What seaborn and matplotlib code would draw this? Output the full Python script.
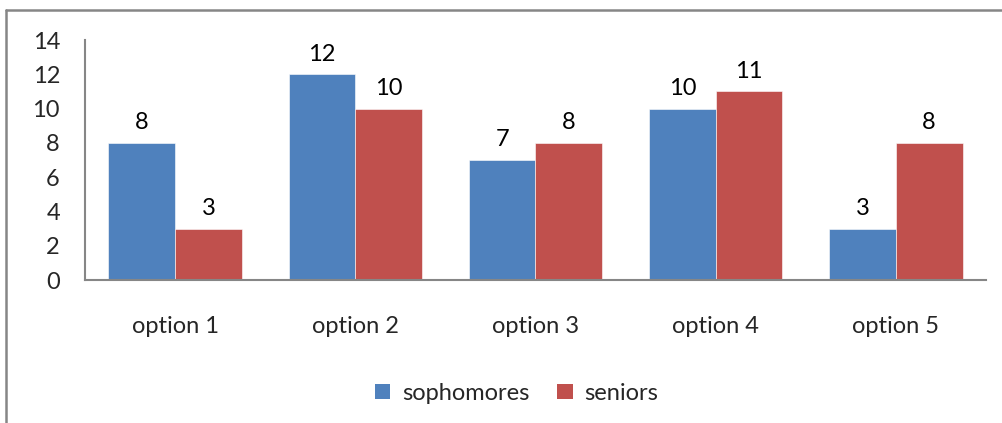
import pandas as pd
import seaborn as sns
import matplotlib.pyplot as plt
from matplotlib.lines import Line2D
from matplotlib.patches import Patch

# data
options = ['option 1', 'option 2', 'option 3', 'option 4', 'option 5']
sophomores = [8, 12, 7, 10, 3]
seniors = [3, 10, 8, 11, 8]
groups = ['sophomores', 'seniors']
y_ticks = [0, 2, 4, 6, 8, 10, 12, 14]

df = pd.DataFrame({
    'option': options * 2,
    'group': ['sophomores'] * len(options) + ['seniors'] * len(options),
    'count': sophomores + seniors,
})

sns.set_style('white')
plt.rcParams['font.family'] = ['Lato', 'DejaVu Sans']
colors = {'sophomores': '#4F81BD', 'seniors': '#C0504D'}
fs = 17

fig = plt.figure(figsize=(10.03, 4.23), dpi=100)
ax = fig.add_axes([0.0847, 0.338, 0.8983, 0.5674])

sns.barplot(data=df, x='option', y='count', hue='group', order=options,
            hue_order=groups, palette=colors, width=0.74, saturation=1,
            edgecolor='white', linewidth=0.4, legend=False, ax=ax)

# value labels above each bar
for cont in ax.containers:
    ax.bar_label(cont, labels=[f'{int(v)}' for v in cont.datavalues],
                 padding=7, fontsize=fs, color='black')

ax.set_ylim(0, 14)
ax.set_xlim(-0.5, len(options) - 0.5)
ax.set_yticks(y_ticks)
ax.set_xlabel('')
ax.set_ylabel('')
ax.tick_params(axis='y', length=0, pad=18, labelsize=fs)
ax.tick_params(axis='x', length=0, pad=26, labelsize=fs)
for s in ['top', 'right']:
    ax.spines[s].set_visible(False)
for s in ['left', 'bottom']:
    ax.spines[s].set_color('#868686')
    ax.spines[s].set_linewidth(1.5)

handles = [Patch(facecolor=colors[g], edgecolor='none') for g in groups]
fig.legend(handles, groups, loc='center', bbox_to_anchor=(0.515, 0.07),
           ncol=2, frameon=False, fontsize=fs, handlelength=0.65,
           handleheight=0.65, handletextpad=0.5, columnspacing=1.2)

# chart-area border (only top and left visible in the crop)
fig.add_artist(Line2D([0.0055, 0.0055], [0, 1 - 10 / 423], color='#868686',
                      lw=1.8, transform=fig.transFigure))
fig.add_artist(Line2D([0.0055, 1.0], [1 - 10 / 423, 1 - 10 / 423], color='#868686',
                      lw=1.8, transform=fig.transFigure))

fig.savefig('out.png', dpi=100)
